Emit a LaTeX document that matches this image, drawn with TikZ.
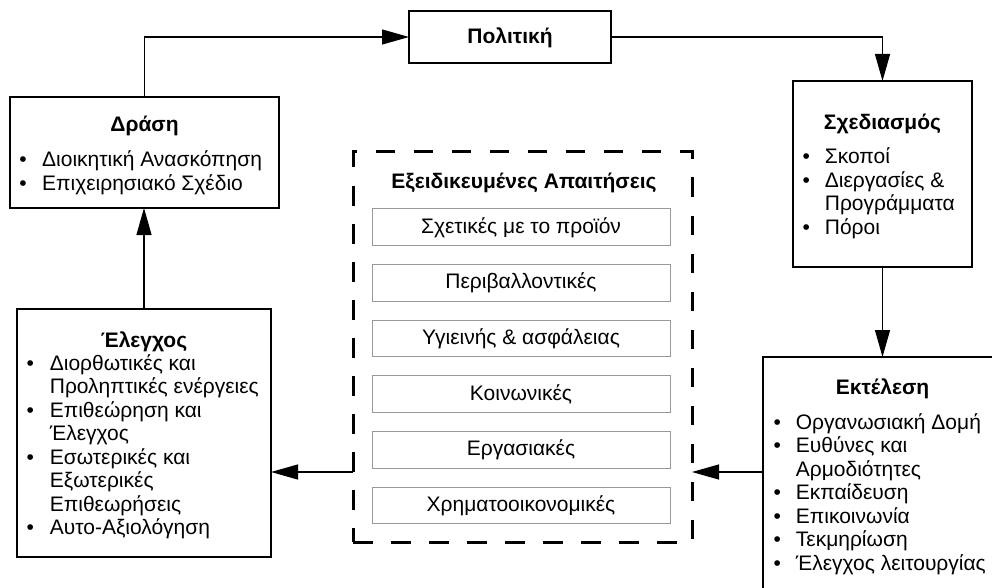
\documentclass[tikz,border=0pt]{standalone}
\usepackage{fontspec}
\setmainfont{Liberation Sans}
\usetikzlibrary{arrows.meta,calc}

\begin{document}
\begin{tikzpicture}[x=1pt,y=-1pt,
  every node/.style={inner sep=0pt, outer sep=0pt},
  txt/.style={font=\fontsize{21}{23.5}\selectfont},
  ttl/.style={font=\fontsize{21}{23.5}\selectfont\bfseries, anchor=base},
  blk/.style={draw, line width=1.4pt},
  req/.style={draw, line width=3pt, dash pattern=on 19.5pt off 18.5pt},
  itembox/.style={draw=black!40, line width=0.9pt, fill=white,
    minimum width=298pt, minimum height=36.5pt,
    txt, text height=16pt, text depth=4pt},
  arr/.style={line width=1.2pt, -{Triangle[length=27pt,width=15pt]}},
  lst/.style={txt, anchor=base west}
]
\useasboundingbox (0,0) rectangle (992,588);
\clip (0,0) rectangle (992,588);
\fill[white] (0,0) rectangle (992,588);

% main blocks of the cycle
\node[blk, minimum width=202pt, minimum height=52pt, txt, font=\fontsize{21}{23.5}\selectfont\bfseries,
      text height=17pt, text depth=3pt] (politiki) at (510,37) {Πολιτική};
\node[blk, minimum width=269pt, minimum height=111pt] (drasi) at (144.5,152.5) {};
\node[blk, minimum width=254pt, minimum height=248pt] (elegxos) at (144,433) {};
\node[blk, minimum width=179pt, minimum height=186pt] (sxed) at (882.5,174) {};
\node[blk, minimum width=239pt, minimum height=243pt] (ekt) at (882.5,478.5) {};

% specific requirements group
\node[req, minimum width=339pt, minimum height=390pt] (reqs) at (522.5,347) {};
\node[ttl] (reqT) at (524,188) {Εξειδικευμένες Απαιτήσεις};
\node[itembox] (r1) at (521,227) {Σχετικές με το προϊόν};
\node[itembox] (r2) at (521,282.7) {Περιβαλλοντικές};
\node[itembox] (r3) at (521,338.4) {Υγιεινής \& ασφάλειας};
\node[itembox] (r4) at (521,394.1) {Κοινωνικές};
\node[itembox] (r5) at (521,449.8) {Εργασιακές};
\node[itembox] (r6) at (521,505.5) {Χρηματοοικονομικές};

% titles
\node[ttl] (drasiT) at (144.5,132) {Δράση};
\node[ttl] (elegxosT) at (144,347) {Έλεγχος};
\node[ttl] (sxedT) at (882.5,130) {Σχεδιασμός};
\node[ttl] (ektT) at (882.5,394) {Εκτέλεση};

% bullet lists
\node[lst] (drasiL) at (19.5,167) {\begin{tabular}[t]{@{}l@{\hspace{15.3pt}}l@{}}
• & Διοικητική Ανασκόπηση\\
• & Επιχειρησιακό Σχέδιο
\end{tabular}};
\node[lst] (elegxosL) at (26.5,370) {\begin{tabular}[t]{@{}l@{\hspace{16pt}}l@{}}
• & Διορθωτικές και\\
  & Προληπτικές ενέργειες\\
• & Επιθεώρηση και\\
  & Έλεγχος\\
• & Εσωτερικές και\\
  & Εξωτερικές\\
  & Επιθεωρήσεις\\
• & Αυτο-Αξιολόγηση
\end{tabular}};
\node[lst] (sxedL) at (802.5,164) {\begin{tabular}[t]{@{}l@{\hspace{15pt}}l@{}}
• & Σκοποί\\
• & Διεργασίες \&\\
  & Προγράμματα\\
• & Πόροι
\end{tabular}};
\node[lst] (ektL) at (773.5,429) {\begin{tabular}[t]{@{}l@{\hspace{15pt}}l@{}}
• & Οργανωσιακή Δομή\\
• & Ευθύνες και\\
  & Αρμοδιότητες\\
• & Εκπαίδευση\\
• & Επικοινωνία\\
• & Τεκμηρίωση\\
• & Έλεγχος λειτουργίας
\end{tabular}};

% connectors
\coordinate (tap) at ([yshift=-115pt]ekt.north west);
\draw[arr] (drasi.north) |- (politiki.west);
\draw[arr] (politiki.east) -| (sxed.north);
\draw[arr] (sxed.south) -- (ekt.north);
\draw[arr] (elegxos.north) -- (elegxos.north |- drasi.south);
\draw[arr] (tap) -- (tap -| reqs.east);
\draw[arr] (tap -| reqs.west) -- (tap -| elegxos.east);
\end{tikzpicture}
\end{document}
